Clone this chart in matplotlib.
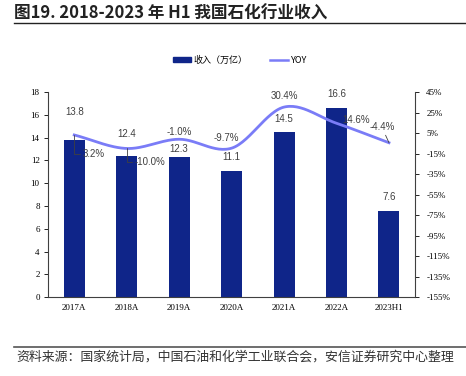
import numpy as np
import matplotlib.pyplot as plt
from matplotlib.lines import Line2D
from matplotlib.patches import Patch

plt.rcParams['font.family'] = ['Liberation Sans', 'Noto Sans CJK SC', 'DejaVu Sans']

categories = ['2017A', '2018A', '2019A', '2020A', '2021A', '2022A', '2023H1']
revenue = [13.8, 12.4, 12.3, 11.1, 14.5, 16.6, 7.6]
yoy = [3.2, -10.0, -1.0, -9.7, 30.4, 14.6, -4.4]
left_ticks = list(range(0, 19, 2))
right_ticks = list(range(-155, 46, 20))

bar_color = '#0F2589'
line_color = '#7A7CF7'
serif = ['Liberation Serif', 'DejaVu Serif']
cjk = ['Noto Sans CJK SC', 'DejaVu Sans']


def smooth(x, y, n=30):
    # catmull-rom style curve, like Excel's smoothed line
    x = np.asarray(x, float)
    y = np.asarray(y, float)
    px = np.concatenate([[2 * x[0] - x[1]], x, [2 * x[-1] - x[-2]]])
    py = np.concatenate([[2 * y[0] - y[1]], y, [2 * y[-1] - y[-2]]])
    xs, ys = [], []
    t = np.linspace(0, 1, n)
    for i in range(1, len(px) - 2):
        for p, out in ((px, xs), (py, ys)):
            p0, p1, p2, p3 = p[i - 1], p[i], p[i + 1], p[i + 2]
            c1 = p1 + (p2 - p0) / 6
            c2 = p2 - (p3 - p1) / 6
            out.extend((1 - t) ** 3 * p1 + 3 * (1 - t) ** 2 * t * c1
                       + 3 * (1 - t) * t ** 2 * c2 + t ** 3 * p2)
    return np.array(xs), np.array(ys)


fig = plt.figure(figsize=(4.66, 3.76), dpi=100)
ax = fig.add_axes([0.103, 0.210, 0.788, 0.545])
x = np.arange(len(categories))

ax.bar(x, revenue, width=0.4, color=bar_color, zorder=2)
ax.set_xlim(-0.5, len(categories) - 0.5)
ax.set_ylim(0, 18)
ax.set_yticks(left_ticks)
ax.set_xticks(x)
ax.set_xticklabels(categories)
for lab in ax.get_xticklabels() + ax.get_yticklabels():
    lab.set_fontfamily(serif)
    lab.set_fontsize(6.5)
ax.tick_params(axis='x', length=0, pad=5)
ax.tick_params(axis='y', length=3, width=0.6, pad=3)
ax.spines['top'].set_visible(False)
ax.spines['right'].set_visible(False)
for s in ('left', 'bottom'):
    ax.spines[s].set_linewidth(0.8)
    ax.spines[s].set_color('#404040')

# bar value labels
bar_offsets = [20, 16, 6, 10, 9, 10, 10]
for xi, v, off in zip(x, revenue, bar_offsets):
    ax.annotate(f'{v:.1f}', (xi, v), xytext=(0, off), textcoords='offset points',
                ha='center', va='center', fontsize=7, color='#404040')

ax2 = ax.twinx()
ax2.set_ylim(-155, 45)
ax2.set_yticks(right_ticks)
ax2.set_yticklabels([f'{t}%' for t in right_ticks])
for lab in ax2.get_yticklabels():
    lab.set_fontfamily(serif)
    lab.set_fontsize(6.5)
ax2.tick_params(axis='y', length=3, width=0.6, pad=5)
for s in ('top', 'left', 'bottom'):
    ax2.spines[s].set_visible(False)
ax2.spines['right'].set_linewidth(0.8)
ax2.spines['right'].set_color('#404040')

sx, sy = smooth(x, yoy)
ax2.plot(sx, sy, color=line_color, lw=2.0, zorder=3)

# yoy labels (offset in points, with optional leader line)
yoy_offsets = [(14, -14), (17, -10), (0, 5), (-4, 7), (0, 8), (14, 2), (-5, 11)]
leader = [True, True, False, False, False, False, True]
for xi, v, (dx, dy), ld in zip(x, yoy, yoy_offsets, leader):
    props = None
    if ld:
        props = dict(arrowstyle='-', color='#404040', lw=0.6,
                     shrinkA=0, shrinkB=0)
        if xi < 2:
            props['connectionstyle'] = 'angle,angleA=0,angleB=90,rad=0'
    ax2.annotate(f'{v:.1f}%', (xi, v), xytext=(dx, dy), textcoords='offset points',
                 ha='center', va='center', fontsize=7, color='#404040',
                 arrowprops=props, zorder=4)

handles = [Patch(color=bar_color), Line2D([], [], color=line_color, lw=1.8)]
fig.legend(handles, ['收入（万亿）', 'YOY'], loc='center', bbox_to_anchor=(0.515, 0.84),
           ncol=2, frameon=False, handlelength=2.0, handleheight=0.5,
           handletextpad=0.3, columnspacing=2.5, prop={'family': cjk, 'size': 6.5})

# title and source
fig.text(0.03, 0.963, '图19. 2018-2023 年 H1 我国石化行业收入', fontsize=12, fontweight='bold',
         ha='left', va='center', family=cjk, color='#222222')
fig.add_artist(Line2D([0.03, 1.0], [0.938, 0.938], color='#222222', lw=1.0))
fig.add_artist(Line2D([0.03, 1.0], [0.077, 0.077], color='#555555', lw=1.2))
fig.text(0.035, 0.05, '资料来源：国家统计局，中国石油和化学工业联合会，安信证券研究中心整理',
         fontsize=9.3, style='italic', ha='left', va='center', family=cjk, color='#333333')

fig.savefig('out.png', dpi=100)
